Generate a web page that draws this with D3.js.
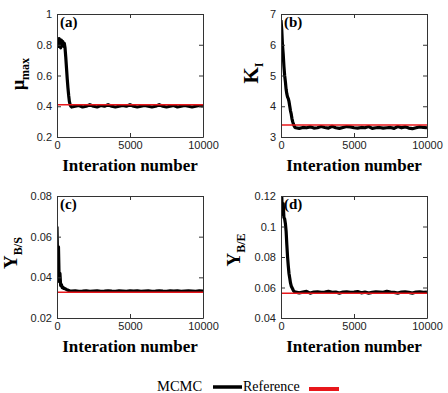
<!DOCTYPE html>
<html>
<head>
<meta charset="utf-8">
<script src="https://cdn.jsdelivr.net/npm/d3@7"></script>
<style>
  body { margin: 0; background: #fff; }
  svg { display: block; }
</style>
</head>
<body>
<div id="chart"></div>
<script>
const iters = [0, 50, 100, 150, 200, 250, 300, 350, 400, 450, 500, 550, 600, 650, 700, 750, 800, 850, 900, 950, 1000,
  1250, 1500, 1750, 2000, 2250, 2500, 2750, 3000, 3250, 3500, 3750, 4000, 4250, 4500, 4750, 5000,
  5250, 5500, 5750, 6000, 6250, 6500, 6750, 7000, 7250, 7500, 7750, 8000, 8250, 8500, 8750, 9000,
  9250, 9500, 9750, 10000];

// MCMC chains
const muMax = [0.80, 0.83, 0.79, 0.84, 0.81, 0.78, 0.83, 0.80, 0.82, 0.79, 0.81, 0.78, 0.72, 0.65, 0.58, 0.52, 0.47, 0.43, 0.41, 0.40, 0.395,
  0.40, 0.405, 0.395, 0.40, 0.41, 0.40, 0.395, 0.405, 0.40, 0.41, 0.40, 0.395, 0.40, 0.405, 0.40, 0.41,
  0.40, 0.395, 0.40, 0.405, 0.40, 0.395, 0.40, 0.41, 0.40, 0.395, 0.40, 0.405, 0.395, 0.40, 0.405, 0.40,
  0.395, 0.40, 0.405, 0.40];
const kI = [6.8, 6.5, 6.0, 5.7, 5.3, 5.0, 4.8, 4.55, 4.4, 4.3, 4.25, 4.15, 4.0, 3.85, 3.75, 3.6, 3.5, 3.42, 3.36, 3.32, 3.30,
  3.28, 3.31, 3.30, 3.33, 3.29, 3.30, 3.34, 3.31, 3.29, 3.35, 3.30, 3.28, 3.31, 3.34, 3.33, 3.30,
  3.29, 3.31, 3.30, 3.34, 3.28, 3.30, 3.31, 3.29, 3.30, 3.31, 3.28, 3.34, 3.30, 3.33, 3.29, 3.27,
  3.30, 3.33, 3.31, 3.30];
const yBS = [0.065, 0.045, 0.055, 0.038, 0.042, 0.036, 0.0365, 0.035, 0.0352, 0.0346, 0.0347, 0.0344, 0.0343, 0.034, 0.0338, 0.0337, 0.0335, 0.0334, 0.0333, 0.0332, 0.0332,
  0.0333, 0.0331, 0.0332, 0.0334, 0.0331, 0.0332, 0.0333, 0.0331, 0.0332, 0.0334, 0.0332, 0.0331, 0.0333, 0.0332, 0.0331, 0.0333,
  0.0332, 0.0334, 0.0331, 0.0332, 0.0333, 0.0331, 0.0332, 0.0334, 0.0332, 0.0331, 0.0333, 0.0332, 0.0334, 0.0331, 0.0332, 0.0333,
  0.0332, 0.0331, 0.0334, 0.0332];
const yBE = [0.112, 0.12, 0.108, 0.115, 0.106, 0.105, 0.102, 0.097, 0.088, 0.080, 0.074, 0.069, 0.066, 0.063, 0.061, 0.060, 0.059, 0.058, 0.0575, 0.057, 0.057,
  0.0565, 0.057, 0.0575, 0.0563, 0.057, 0.0572, 0.0568, 0.057, 0.0575, 0.0568, 0.057, 0.0563, 0.057, 0.0572, 0.0568, 0.057,
  0.0573, 0.0565, 0.057, 0.0563, 0.0568, 0.0572, 0.057, 0.0568, 0.0575, 0.057, 0.0568, 0.0563, 0.057, 0.0572, 0.0568, 0.0563,
  0.057, 0.0572, 0.0568, 0.057];

// reference (true) values
const refs = [0.41, 3.39, 0.0327, 0.0562];

const xTicks = [0, 5000, 10000];
const yDomains = [[0.2, 1], [3, 7], [0.02, 0.08], [0.04, 0.12]];
const yTicks = [
  [0.2, 0.4, 0.6, 0.8, 1],
  [3, 4, 5, 6, 7],
  [0.02, 0.04, 0.06, 0.08],
  [0.04, 0.06, 0.08, 0.1, 0.12]
];
const panelTags = ["(a)", "(b)", "(c)", "(d)"];
const chains = [muMax, kI, yBS, yBE];
const xTitle = "Interation number";
const legendNames = ["MCMC", "Reference"];

// label: [main, subscript]
const yLabels = [["\u03bc", "max"], ["K", "I"], ["Y", "B/S"], ["Y", "B/E"]];

const W = 448, H = 393;
const pw = 146;
const panels = [
  { x: 57, y: 14, h: 123, lx: 24, ly: 74, fs: 18 },
  { x: 281, y: 14, h: 123, lx: 258, ly: 73, fs: 21 },
  { x: 57, y: 196, h: 122, lx: 17, ly: 253, fs: 19 },
  { x: 281, y: 196, h: 122, lx: 240, ly: 250, fs: 19 }
];

const serif = "'Liberation Serif', 'Times New Roman', serif";
const sans = "'Liberation Sans', Arial, sans-serif";

const svg = d3.select("#chart").append("svg")
  .attr("width", W)
  .attr("height", H);

panels.forEach(function(p, i) {
  const x = d3.scaleLinear().domain([0, 10000]).range([0, pw]);
  const y = d3.scaleLinear().domain(yDomains[i]).range([p.h, 0]);

  const g = svg.append("g").attr("transform", "translate(" + p.x + "," + p.y + ")");

  g.append("clipPath").attr("id", "clip" + i)
    .append("rect").attr("width", pw).attr("height", p.h);

  // chain trace
  const line = d3.line()
    .x(function(d, k) { return x(iters[k]); })
    .y(function(d) { return y(d); });

  g.append("path")
    .datum(chains[i])
    .attr("clip-path", "url(#clip" + i + ")")
    .attr("fill", "none")
    .attr("stroke", "#000")
    .attr("stroke-width", 3.2)
    .attr("stroke-linejoin", "round")
    .attr("d", line);

  // reference line
  g.append("line")
    .attr("x1", 0).attr("x2", pw)
    .attr("y1", y(refs[i])).attr("y2", y(refs[i]))
    .attr("stroke", "#e8171b")
    .attr("stroke-width", 1.6);

  // axes, ticks pointing inwards on all four sides
  const styleAxis = function(sel) {
    sel.select(".domain").attr("stroke", "#333");
    sel.selectAll(".tick line").attr("stroke", "#333");
    sel.selectAll(".tick text")
      .attr("fill", "#222")
      .style("font-family", sans)
      .style("font-size", "11px");
  };

  g.append("g").attr("transform", "translate(0," + p.h + ")")
    .call(d3.axisBottom(x).tickValues(xTicks).tickFormat(d3.format("d"))
      .tickSizeInner(-4).tickSizeOuter(0).tickPadding(4))
    .call(styleAxis);
  g.append("g")
    .call(d3.axisTop(x).tickValues(xTicks).tickFormat("")
      .tickSizeInner(-4).tickSizeOuter(0))
    .call(styleAxis);
  g.append("g")
    .call(d3.axisLeft(y).tickValues(yTicks[i]).tickFormat(d3.format(""))
      .tickSizeInner(-4).tickSizeOuter(0).tickPadding(5))
    .call(styleAxis);
  g.append("g").attr("transform", "translate(" + pw + ",0)")
    .call(d3.axisRight(y).tickValues(yTicks[i]).tickFormat("")
      .tickSizeInner(-4).tickSizeOuter(0))
    .call(styleAxis);

  // panel tag
  g.append("text")
    .attr("x", 3).attr("y", 13)
    .style("font-family", serif)
    .style("font-weight", "bold")
    .style("font-size", "15px")
    .text(panelTags[i]);

  // x title
  g.append("text")
    .attr("x", pw / 2).attr("y", p.h + 34)
    .attr("text-anchor", "middle")
    .style("font-family", serif)
    .style("font-weight", "bold")
    .style("font-size", "17px")
    .text(xTitle);

  // y title with subscript
  const yt = svg.append("text")
    .attr("transform", "translate(" + p.lx + "," + p.ly + ") rotate(-90)")
    .attr("text-anchor", "middle")
    .style("font-family", serif)
    .style("font-weight", "bold")
    .style("font-size", p.fs + "px");
  yt.append("tspan").text(yLabels[i][0]);
  yt.append("tspan")
    .attr("dy", 5)
    .style("font-size", "12px")
    .text(yLabels[i][1]);
});

// legend along the bottom edge
const lg = svg.append("g");
lg.append("text")
  .attr("x", 157).attr("y", 391)
  .style("font-family", serif)
  .style("font-size", "14.5px")
  .text(legendNames[0]);
lg.append("line")
  .attr("x1", 213).attr("x2", 242)
  .attr("y1", 387).attr("y2", 387)
  .attr("stroke", "#000").attr("stroke-width", 3.5);
lg.append("text")
  .attr("x", 243).attr("y", 391)
  .style("font-family", serif)
  .style("font-size", "14px")
  .text(legendNames[1]);
lg.append("line")
  .attr("x1", 309).attr("x2", 339)
  .attr("y1", 389).attr("y2", 389)
  .attr("stroke", "#e8171b").attr("stroke-width", 4);
</script>
</body>
</html>
